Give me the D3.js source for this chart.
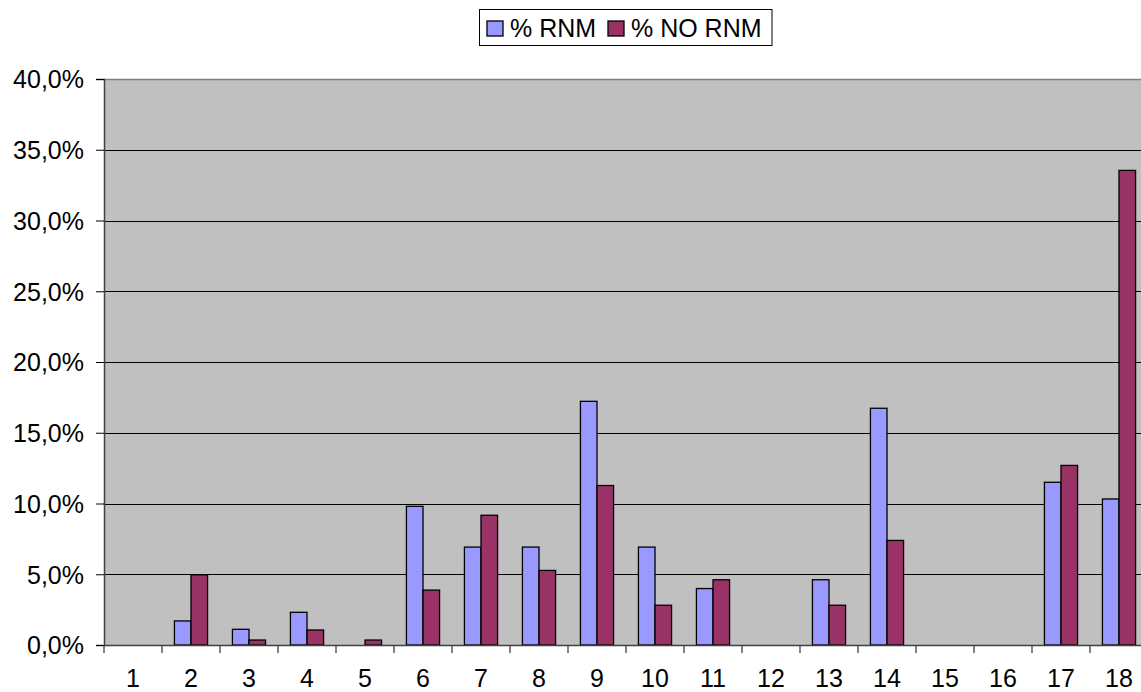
<!DOCTYPE html>
<html>
<head>
<meta charset="utf-8">
<script src="https://cdn.jsdelivr.net/npm/d3@7"></script>
<style>
  html, body { margin: 0; padding: 0; background: #fff; }
  svg { display: block; }
  text { font-family: "Liberation Sans", Arial, sans-serif; font-size: 25px; fill: #000; }
</style>
</head>
<body>
<svg id="chart" width="1141" height="692"></svg>
<script>
const categories = ["1","2","3","4","5","6","7","8","9","10","11","12","13","14","15","16","17","18"];
const seriesNames = ["% RNM", "% NO RNM"];
const rnm   = [0, 1.70, 1.11, 2.31, 0, 9.80, 6.92, 6.92, 17.22, 6.92, 3.99, 0, 4.61, 16.73, 0, 0, 11.50, 10.32];
const noRnm = [0, 4.96, 0.35, 1.06, 0.35, 3.88, 9.17, 5.27, 11.27, 2.81, 4.61, 0, 2.81, 7.39, 0, 0, 12.69, 33.54];
const yTicks = [0, 5, 10, 15, 20, 25, 30, 35, 40];
const colors = ["#9999FF", "#993366"];

const svg = d3.select("#chart");
const plotL = 104, plotR = 1148, plotT = 79, plotB = 645;

const x0 = d3.scaleBand().domain(categories).range([plotL, plotR]).padding(0);
const bw = x0.bandwidth();
const x1 = d3.scaleBand().domain(seriesNames)
  .range([bw * 0.75 / 3.5, bw * 2.75 / 3.5]).padding(0);
const y = d3.scaleLinear().domain([0, 40]).range([plotB, plotT]);
const color = d3.scaleOrdinal().domain(seriesNames).range(colors);

// plot background
svg.append("rect")
  .attr("x", plotL).attr("y", plotT)
  .attr("width", plotR - plotL).attr("height", plotB - plotT)
  .attr("fill", "#C0C0C0");

// top border
svg.append("line")
  .attr("x1", plotL).attr("x2", plotR)
  .attr("y1", plotT + 0.5).attr("y2", plotT + 0.5)
  .attr("stroke", "#808080").attr("stroke-width", 1.5);

// gridlines
svg.append("g").selectAll("line")
  .data(yTicks.filter(d => d > 0 && d < 40))
  .join("line")
  .attr("x1", plotL).attr("x2", plotR)
  .attr("y1", d => Math.round(y(d)) + 0.5).attr("y2", d => Math.round(y(d)) + 0.5)
  .attr("stroke", "#000").attr("stroke-width", 1);

// bars
const data = categories.map((c, i) => ({cat: c, vals: [
  {s: seriesNames[0], v: rnm[i]},
  {s: seriesNames[1], v: noRnm[i]}
]}));

svg.append("g").selectAll("g")
  .data(data).join("g")
  .attr("transform", d => `translate(${x0(d.cat)},0)`)
  .selectAll("rect")
  .data(d => d.vals.filter(e => e.v > 0))
  .join("rect")
  .attr("x", d => x1(d.s))
  .attr("width", x1.bandwidth())
  .attr("y", d => y(d.v))
  .attr("height", d => y(0) - y(d.v))
  .attr("fill", d => color(d.s))
  .attr("stroke", "#000").attr("stroke-width", 1.3);

// y axis
const yAxis = d3.axisLeft(y)
  .tickValues(yTicks)
  .tickSize(8)
  .tickPadding(12)
  .tickFormat(d => d3.format(".1f")(d).replace(".", ",") + "%");
const gy = svg.append("g").attr("transform", `translate(${plotL},0)`).call(yAxis);
gy.attr("font-family", null).attr("font-size", null);
gy.select(".domain").attr("stroke", "#404040").attr("stroke-width", 1.5);
gy.selectAll(".tick line").attr("stroke", "#000");
gy.selectAll(".tick text").style("font-size", "25px").attr("dy", "0.35em");

// x axis
const gx = svg.append("g").attr("transform", `translate(0,${plotB})`);
gx.append("line")
  .attr("x1", plotL).attr("x2", plotR)
  .attr("y1", 0.5).attr("y2", 0.5)
  .attr("stroke", "#404040").attr("stroke-width", 1.5);
gx.selectAll("line.tk")
  .data(categories.concat(["end"]))
  .join("line").attr("class", "tk")
  .attr("x1", (d, i) => plotL + i * bw).attr("x2", (d, i) => plotL + i * bw)
  .attr("y1", 0).attr("y2", 8)
  .attr("stroke", "#404040").attr("stroke-width", 1.3);
gx.selectAll("text")
  .data(categories).join("text")
  .attr("x", d => x0(d) + bw / 2)
  .attr("y", 42)
  .attr("text-anchor", "middle")
  .text(d => d);

// legend
const lg = svg.append("g");
lg.append("rect")
  .attr("x", 479.5).attr("y", 9.5)
  .attr("width", 292.5).attr("height", 36)
  .attr("fill", "#fff").attr("stroke", "#000").attr("stroke-width", 1);
const legendX = [487, 608];
seriesNames.forEach((s, i) => {
  lg.append("rect")
    .attr("x", legendX[i]).attr("y", 21)
    .attr("width", 16).attr("height", 15)
    .attr("fill", color(s)).attr("stroke", "#000").attr("stroke-width", 1.3);
  lg.append("text")
    .attr("x", legendX[i] + 23).attr("y", 36.5)
    .text(s);
});
</script>
</body>
</html>
